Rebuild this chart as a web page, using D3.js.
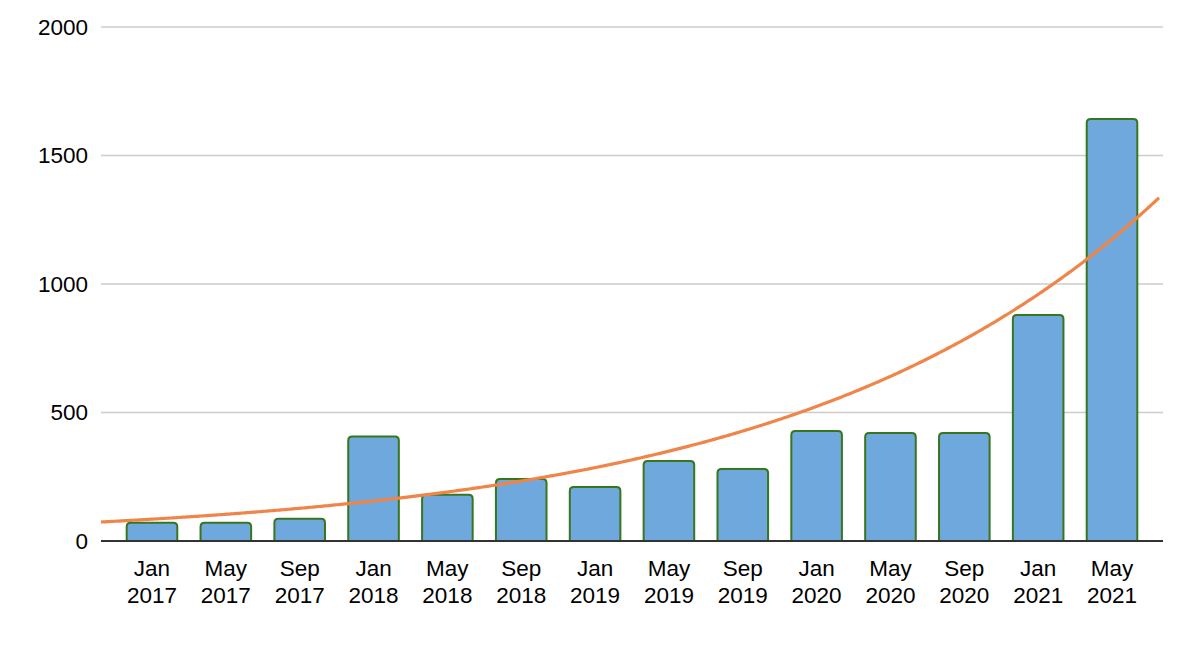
<!DOCTYPE html>
<html>
<head>
<meta charset="utf-8">
<script src="https://cdn.jsdelivr.net/npm/d3@7"></script>
<style>
  html, body { margin: 0; padding: 0; background: #fff; }
  svg { display: block; font-family: "Liberation Sans", Arial, sans-serif; }
</style>
</head>
<body>
<svg id="chart" width="1200" height="646"></svg>
<script>
// ---- data ----
const months = ["Jan", "May", "Sep", "Jan", "May", "Sep", "Jan", "May", "Sep", "Jan", "May", "Sep", "Jan", "May"];
const years  = ["2017", "2017", "2017", "2018", "2018", "2018", "2019", "2019", "2019", "2020", "2020", "2020", "2021", "2021"];
const values = [71, 71, 87, 407, 180, 241, 210, 311, 280, 428, 420, 420, 879, 1642];
const yTicks = [0, 500, 1000, 1500, 2000];
// exponential trendline: value = trendA * exp(trendB * categoryIndex)
const trendA = 85;
const trendB = 0.202;

(function () {
  // ---- layout ----
  const plotL = 101, plotR = 1163, plotT = 27, plotB = 541;
  const fs = 22.5;
  const svg = d3.select("#chart");

  const categories = months.map((m, i) => i);
  const x = d3.scaleBand().domain(categories).range([plotL, plotR])
    .paddingInner(0.315).paddingOuter(0.348);
  const y = d3.scaleLinear().domain([0, 2000]).range([plotB, plotT]);

  // gridlines
  svg.append("g").selectAll("line").data(yTicks.filter(d => d > 0)).join("line")
    .attr("x1", plotL).attr("x2", plotR)
    .attr("y1", d => y(d)).attr("y2", d => y(d))
    .attr("stroke", "#cccccc").attr("stroke-width", 1.3);

  // y labels
  const yAxis = d3.axisLeft(y).tickValues(yTicks).tickFormat(d3.format("d")).tickSize(0).tickPadding(13);
  const gy = svg.append("g").attr("transform", `translate(${plotL},0)`).call(yAxis);
  gy.select(".domain").remove();
  gy.selectAll("text").attr("font-size", fs).attr("fill", "#000")
    .attr("font-family", "'Liberation Sans', Arial, sans-serif");

  // bars with rounded top corners
  const r = 4;
  function barPath(i, v) {
    const x0 = x(i), x1 = x(i) + x.bandwidth();
    const y0 = y(0), y1 = y(v);
    return `M${x0},${y0} L${x0},${y1 + r} Q${x0},${y1} ${x0 + r},${y1} L${x1 - r},${y1} Q${x1},${y1} ${x1},${y1 + r} L${x1},${y0}`;
  }
  svg.append("g").selectAll("path").data(values).join("path")
    .attr("d", (v, i) => barPath(i, v))
    .attr("fill", "#6fa8dc")
    .attr("stroke", "#38761d")
    .attr("stroke-width", 2);

  // baseline axis
  svg.append("line")
    .attr("x1", plotL).attr("x2", plotR)
    .attr("y1", y(0)).attr("y2", y(0))
    .attr("stroke", "#333").attr("stroke-width", 1.8);

  // trendline (exponential) across plot width
  const idx = px => (px - (x(0) + x.bandwidth() / 2)) / x.step();
  const trendPts = d3.range(plotL, plotR - 3 + 0.1, 2).map(px => [px, trendA * Math.exp(trendB * idx(px))]);
  svg.append("path")
    .datum(trendPts)
    .attr("d", d3.line().x(d => d[0]).y(d => y(d[1])))
    .attr("fill", "none")
    .attr("stroke", "#ef8548")
    .attr("stroke-width", 3.2);

  // x labels
  const xl = svg.append("g").selectAll("text").data(categories).join("text")
    .attr("x", i => x(i) + x.bandwidth() / 2)
    .attr("text-anchor", "middle")
    .attr("font-size", fs)
    .attr("fill", "#000");
  xl.append("tspan").attr("x", i => x(i) + x.bandwidth() / 2).attr("y", 576).text(i => months[i]);
  xl.append("tspan").attr("x", i => x(i) + x.bandwidth() / 2).attr("y", 603).text(i => years[i]);
})();
</script>
</body>
</html>
